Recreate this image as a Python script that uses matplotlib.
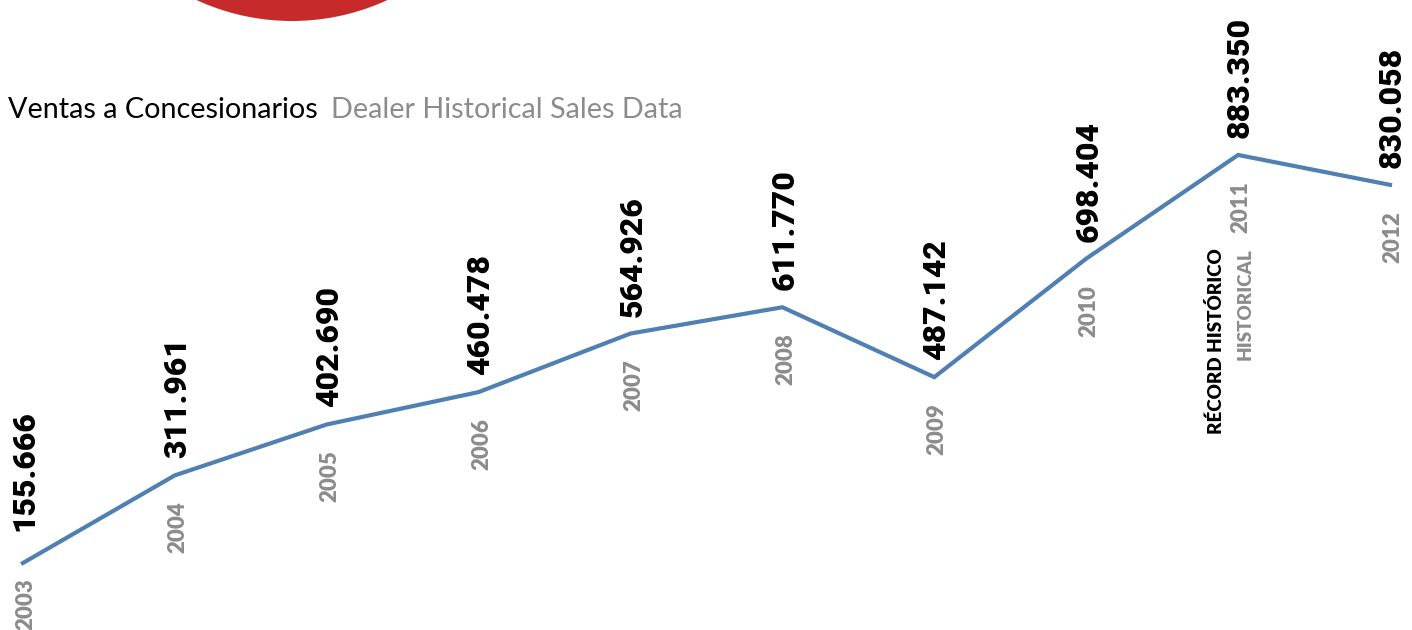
import matplotlib
matplotlib.use("Agg")
import matplotlib.pyplot as plt
from matplotlib.patches import Ellipse

# ---- data ----
years = [2003, 2004, 2005, 2006, 2007, 2008, 2009, 2010, 2011, 2012]
sales = [155666, 311961, 402690, 460478, 564926, 611770, 487142, 698404, 883350, 830058]
value_labels = ["155.666", "311.961", "402.690", "460.478", "564.926",
                "611.770", "487.142", "698.404", "883.350", "830.058"]
year_labels = [str(y) for y in years]
title_es = "Ventas a Concesionarios"
title_en = "Dealer Historical Sales Data"
record_es = "RÉCORD HISTÓRICO"
record_en = "HISTORICAL"
record_year = 2011

# ---- style ----
W, H, DPI = 1412, 630, 100
LINE = "#4F80B1"
GRAY = "#8C8C8C"
RED = "#C62A2A"
FONT = ["Lato", "DejaVu Sans"]
plt.rcParams["font.family"] = FONT
VAL_FONT = ["Roboto", "Lato", "DejaVu Sans"]

fig = plt.figure(figsize=(W / DPI, H / DPI), dpi=DPI)
ax = fig.add_axes([0, 0, 1, 1])
ax.set_axis_off()
ax.set_xlim(2002.849, 2012.145)
ax.set_ylim(36200, 1159700)

# red circle peeking from the top
ax.add_patch(Ellipse((292 / W, 1 + 207 / H), 2 * 228 / W, 2 * 228 / H,
                     transform=ax.transAxes, facecolor=RED, edgecolor="none",
                     clip_on=True, zorder=0))

ax.plot(years, sales, color=LINE, lw=3.0, solid_joinstyle="miter", zorder=2)

for i, (x, y) in enumerate(zip(years, sales)):
    dy = 32 if i == 0 else 17
    ydy = -15 if i == 0 else -26
    ax.annotate(value_labels[i], (x, y), xytext=(2, dy), textcoords="offset pixels",
                rotation=90, ha="center", va="bottom", fontsize=23,
                fontweight="black", color="black", family=VAL_FONT)
    ax.annotate(year_labels[i], (x, y), xytext=(3, ydy), textcoords="offset pixels",
                rotation=90, ha="center", va="top", fontsize=16,
                fontweight="heavy", color=GRAY)

ri = years.index(record_year)
ax.annotate(record_es, (years[ri], sales[ri]), xytext=(-22, -93), textcoords="offset pixels",
            rotation=90, ha="center", va="top", fontsize=13.5, fontweight="heavy", color="black")
ax.annotate(record_en, (years[ri], sales[ri]), xytext=(7, -93), textcoords="offset pixels",
            rotation=90, ha="center", va="top", fontsize=13.5, fontweight="heavy", color=GRAY)

t1 = fig.text(8 / W, 1 - 118 / H, title_es, fontsize=20.7, color="black",
              ha="left", va="baseline")
fig.canvas.draw()
bb = t1.get_window_extent()
fig.text((bb.x1 + 13) / W, 1 - 118 / H, title_en, fontsize=20.7, color=GRAY,
         ha="left", va="baseline")

fig.savefig("out.png", dpi=DPI, facecolor="white")
